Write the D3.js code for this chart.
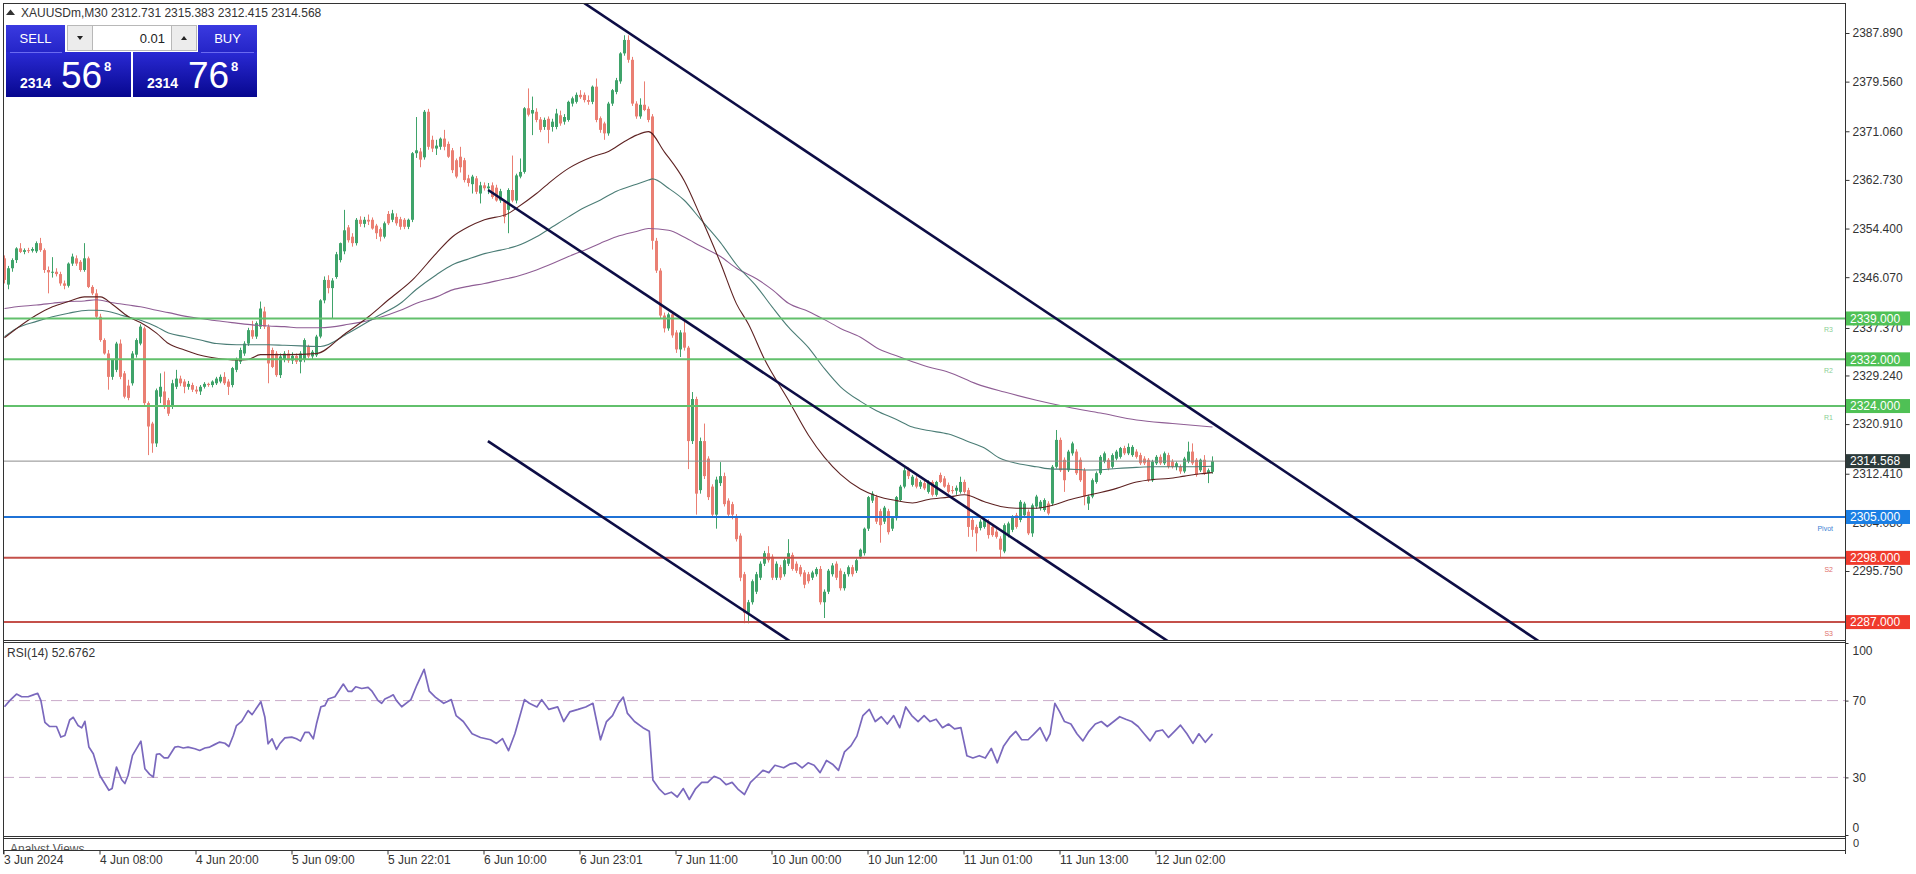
<!DOCTYPE html>
<html><head><meta charset="utf-8">
<script src="https://cdn.jsdelivr.net/npm/d3@7"></script>
<style>
html,body{margin:0;padding:0;background:#fff;overflow:hidden;}
svg{display:block;font-family:"Liberation Sans",Arial,sans-serif;}
</style></head><body>
<svg id="c" width="1916" height="874"></svg>
<script>
// ---------------- DATA ----------------
const symbolLabel = "XAUUSDm,M30";
const headerOHLC = ["2312.731", "2315.383", "2312.415", "2314.568"];
const rsiLabel = "RSI(14) 52.6762";
const analystLabel = "Analyst Views";
const lotSize = "0.01";
const sellQuote = ["2314", "56", "8"];
const buyQuote = ["2314", "76", "8"];

const timeTickBars = [0, 24, 48, 72, 96, 120, 144, 168, 192, 216, 240, 264, 288];
const timeTickLabels = ["3 Jun 2024", "4 Jun 08:00", "4 Jun 20:00", "5 Jun 09:00", "5 Jun 22:01", "6 Jun 10:00",
  "6 Jun 23:01", "7 Jun 11:00", "10 Jun 00:00", "10 Jun 12:00", "11 Jun 01:00", "11 Jun 13:00", "12 Jun 02:00"];
const priceTicks = [2387.890, 2379.560, 2371.060, 2362.730, 2354.400, 2346.070, 2337.370, 2329.240, 2320.910, 2312.410, 2304.080, 2295.750];
const rsiTicks = [100, 70, 30, 0];
const rsiLevels = [70, 30];

const levelNames = ["R3", "R2", "R1", "Pivot", "S2", "S3"];
const levelValues = [2339.000, 2332.000, 2324.000, 2305.000, 2298.000, 2287.000];
const levelKinds = ["res", "res", "res", "pivot", "sup", "sup"];
const lastPrice = 2314.568;

// trend channel anchors: [bar, price]
const trendUpper = [[151.3, 2390.1], [229.25, 2354.4]];
const trendMiddle = [[120.9, 2361.0], [270.9, 2292.8]];
const trendLower = [[120.85, 2318.0], [195.1, 2284.3]];

// candles [open, high, low, close]
const ohlcA = [
[2349.3,2349.8,2345.0,2345.6],[2344.8,2348.0,2344.0,2347.6],[2347.6,2349.3,2347.0,2349.0],[2349.0,2351.2,2348.5,2351.0],
[2351.0,2351.9,2350.2,2350.4],[2350.4,2351.0,2350.0,2350.7],[2350.7,2351.1,2350.2,2350.6],[2350.6,2351.2,2350.3,2350.9],
[2350.5,2352.2,2350.2,2351.9],[2351.9,2352.8,2350.4,2350.7],[2350.7,2351.0,2346.8,2347.3],[2347.3,2347.9,2343.3,2346.9],
[2346.9,2349.5,2346.0,2347.0],[2347.0,2347.6,2346.2,2346.6],[2346.6,2347.0,2344.6,2345.0],[2345.0,2345.5,2344.0,2344.6],
[2344.6,2348.6,2344.3,2348.4],[2348.4,2350.1,2348.0,2349.6],[2349.3,2349.8,2348.0,2348.4],[2348.7,2349.0,2347.0,2347.3],
[2347.3,2351.9,2347.0,2349.3],[2349.3,2349.6,2344.2,2344.4],[2344.4,2344.7,2343.0,2343.3],[2343.3,2344.0,2339.0,2339.3],
[2339.3,2339.8,2335.0,2335.3],[2335.3,2335.6,2332.8,2333.0],[2333.0,2333.6,2326.8,2329.0],[2329.0,2332.0,2328.5,2331.9],
[2330.2,2335.0,2329.8,2334.7],[2334.7,2335.4,2328.6,2329.0],[2329.6,2330.0,2325.3,2325.6],[2327.5,2328.5,2325.0,2325.4],
[2327.9,2333.4,2327.5,2333.0],[2332.8,2335.6,2332.3,2335.3],[2334.7,2338.0,2334.4,2337.6],[2337.3,2337.6,2324.0,2324.5],
[2324.5,2324.8,2315.6,2320.5],[2321.0,2321.3,2316.0,2317.6],[2317.6,2327.0,2317.0,2326.7],[2325.6,2329.6,2324.5,2327.3],
[2326.5,2329.9,2323.5,2323.9],[2325.0,2325.4,2322.3,2322.7],[2323.9,2328.5,2323.5,2327.9],[2327.3,2330.2,2326.9,2328.7],
[2328.7,2329.2,2327.4,2327.9],[2328.2,2328.6,2326.2,2327.3],[2327.3,2328.3,2326.8,2327.8],[2327.6,2328.0,2326.4,2326.8],
[2326.8,2327.4,2326.1,2326.5],[2326.5,2327.6,2325.9,2327.3],[2327.3,2328.1,2327.0,2327.8],[2327.8,2328.0,2327.3,2327.6],
[2327.6,2328.4,2327.2,2328.2],[2327.9,2329.0,2327.6,2328.7],[2328.2,2329.4,2327.9,2329.0],[2329.0,2329.8,2327.6,2327.9],
[2328.2,2328.6,2325.9,2327.3],[2327.6,2330.7,2327.2,2330.5],[2330.2,2332.3,2329.8,2331.9],[2331.6,2334.0,2331.2,2333.6],
[2333.0,2335.1,2332.6,2334.7],[2334.7,2337.4,2334.3,2337.0],[2337.0,2338.6,2335.5,2335.9],[2335.9,2338.5,2335.5,2338.2],
[2337.6,2341.9,2337.2,2340.7],[2340.2,2341.0,2337.2,2337.6],[2337.6,2338.0,2327.9,2331.3],[2333.6,2334.0,2330.5,2330.7],
[2333.0,2333.4,2329.0,2329.3],[2329.3,2333.0,2328.8,2332.5],[2331.9,2333.4,2331.5,2333.0],[2333.0,2333.6,2331.4,2331.8],
[2331.8,2333.2,2331.2,2332.6],[2332.6,2333.0,2331.2,2331.6],[2331.6,2333.4,2329.6,2333.0],[2331.9,2335.6,2331.5,2335.3],
[2334.2,2334.5,2332.2,2332.5],[2332.5,2333.6,2332.0,2333.3],[2332.7,2336.2,2332.4,2335.9],[2335.9,2342.3,2335.6,2342.1]
];
const ohlcB = [
[2342.1,2346.2,2341.6,2345.6],[2345.6,2346.4,2343.3,2344.2],[2344.2,2345.9,2339.0,2345.5],[2346.1,2350.4,2345.8,2350.0],
[2349.0,2352.0,2348.6,2351.9],[2350.5,2357.6,2350.0,2354.1],[2354.6,2355.0,2352.0,2352.4],[2353.0,2353.6,2351.3,2351.9],
[2351.9,2356.2,2351.5,2355.9],[2355.9,2356.5,2354.7,2355.2],[2355.2,2356.4,2354.6,2355.9],[2355.9,2356.8,2355.0,2355.6],
[2355.9,2356.3,2354.2,2354.4],[2354.9,2355.2,2352.6,2353.6],[2354.3,2354.6,2352.2,2353.0],[2353.0,2355.6,2352.7,2355.3],
[2356.9,2357.4,2355.0,2355.3],[2355.9,2357.6,2355.5,2357.0],[2356.4,2357.0,2354.9,2355.3],[2356.0,2356.4,2354.2,2354.7],
[2355.9,2356.2,2354.3,2354.7],[2354.7,2356.1,2354.3,2355.9],[2355.9,2367.5,2355.5,2367.3],[2367.3,2373.5,2366.5,2367.8],
[2367.6,2368.2,2364.9,2366.2],[2366.6,2374.7,2366.2,2374.4],[2374.4,2374.9,2367.9,2368.4],[2369.6,2370.3,2367.5,2368.1],
[2368.1,2369.6,2367.0,2368.6],[2368.4,2370.0,2367.9,2369.8],[2369.8,2371.3,2367.8,2368.4],[2368.9,2369.3,2366.5,2366.7],
[2367.8,2368.2,2363.9,2364.4],[2366.1,2366.4,2363.0,2363.3],[2366.7,2368.4,2364.0,2364.9],[2366.1,2366.5,2362.3,2362.7],
[2363.0,2363.6,2361.6,2362.2],[2362.0,2363.6,2360.4,2363.3],[2363.0,2363.4,2360.3,2360.7],[2360.4,2362.4,2358.7,2361.8],
[2361.8,2362.3,2360.9,2361.3],[2361.3,2362.2,2360.3,2361.6],[2361.8,2362.3,2359.5,2359.8],[2361.4,2361.9,2359.0,2359.2],
[2359.2,2361.2,2358.8,2360.8],[2359.0,2359.3,2355.3,2356.4],[2357.6,2361.3,2353.6,2361.0],[2361.0,2366.9,2358.9,2359.2],
[2359.2,2363.8,2358.7,2363.5],[2363.3,2366.4,2363.0,2364.1],[2364.1,2375.2,2363.8,2375.0],[2375.0,2378.4,2373.6,2373.9],
[2374.1,2377.0,2370.4,2374.7],[2374.4,2375.0,2372.6,2373.0],[2373.1,2373.5,2370.9,2371.3],[2371.8,2373.4,2371.3,2373.0],
[2373.2,2373.6,2369.0,2371.3],[2371.8,2373.2,2371.0,2372.7],[2371.8,2374.9,2371.4,2374.1],[2373.8,2374.6,2372.0,2372.4],
[2372.7,2374.0,2372.2,2373.5],[2373.0,2376.3,2372.7,2376.1],[2375.8,2377.0,2375.3,2376.7],[2376.1,2377.7,2375.8,2377.3],
[2377.3,2378.1,2376.6,2376.9],[2377.3,2377.7,2376.0,2376.4],[2376.4,2377.2,2375.6,2376.1],[2376.1,2378.9,2375.7,2378.7],
[2378.7,2380.1,2372.6,2373.0],[2373.3,2373.6,2370.8,2371.3],[2372.4,2372.7,2369.6,2370.7],[2370.7,2376.1,2370.3,2375.8],
[2375.8,2378.3,2375.4,2378.1],[2377.8,2380.2,2377.4,2379.8],[2379.6,2384.6,2379.2,2384.4],[2384.4,2387.5,2384.0,2386.7],
[2386.7,2387.5,2382.8,2383.3],[2383.3,2383.8,2375.4,2375.8],[2375.8,2376.2,2373.2,2373.6],[2373.6,2376.7,2373.2,2375.6],
[2375.6,2379.6,2374.5,2374.7],[2374.9,2375.3,2372.6,2373.0]
];
const ohlcC = [
[2373.6,2374.0,2350.8,2352.3],[2352.3,2352.8,2346.8,2347.2],[2347.2,2347.6,2339.0,2339.5],[2339.5,2340.0,2336.6,2337.3],
[2337.3,2340.0,2336.9,2339.7],[2339.7,2340.1,2335.7,2336.1],[2336.6,2337.0,2333.1,2333.7],[2333.7,2337.0,2332.4,2336.6],
[2336.6,2338.5,2333.5,2334.0],[2334.0,2334.3,2313.2,2318.0],[2318.0,2326.4,2317.5,2325.2],[2325.2,2325.6,2305.4,2309.0],
[2309.6,2318.6,2309.0,2318.0],[2318.0,2321.0,2311.5,2312.0],[2315.0,2315.4,2307.9,2308.4],[2310.2,2310.6,2305.0,2305.4],
[2305.4,2311.9,2303.0,2311.4],[2310.8,2314.4,2310.3,2312.0],[2312.0,2312.6,2306.8,2307.2],[2307.8,2308.2,2305.0,2305.4],
[2307.2,2307.6,2304.6,2305.4],[2305.1,2305.5,2300.8,2301.2],[2301.8,2302.2,2294.0,2294.6],[2295.2,2295.6,2286.8,2288.6],
[2288.6,2290.8,2286.8,2290.4],[2290.4,2294.3,2290.0,2294.0],[2292.2,2295.6,2291.8,2295.2],[2294.6,2297.4,2294.2,2297.0],
[2297.0,2299.2,2296.6,2298.8],[2298.8,2300.0,2297.2,2297.6],[2298.2,2298.6,2294.2,2294.6],[2294.6,2297.4,2294.2,2297.0],
[2296.4,2296.8,2294.2,2294.6],[2295.2,2298.0,2294.8,2297.6],[2297.0,2301.2,2296.6,2298.8],[2298.5,2298.9,2295.8,2296.1],
[2297.0,2297.4,2295.4,2295.8],[2296.4,2296.8,2294.8,2295.2],[2295.5,2295.9,2292.8,2293.4],[2295.2,2295.6,2293.6,2294.0],
[2294.6,2295.8,2294.2,2295.5],[2295.2,2296.4,2294.8,2296.1],[2296.1,2296.6,2290.0,2290.4],[2290.4,2292.6,2287.7,2292.2],
[2292.2,2296.1,2291.8,2295.8],[2295.2,2297.1,2294.8,2296.7],[2297.0,2297.4,2294.2,2294.6],[2295.8,2296.2,2292.4,2292.8],
[2292.8,2295.6,2292.4,2295.2],[2295.2,2296.7,2294.8,2296.4],[2296.4,2296.8,2294.8,2295.2],[2295.8,2297.9,2295.4,2297.6],
[2298.2,2299.6,2297.8,2299.4],[2298.8,2303.2,2298.4,2303.0],[2303.0,2308.6,2302.6,2308.4],[2307.8,2309.4,2307.4,2309.0],
[2308.4,2308.8,2303.8,2304.2],[2306.0,2306.4,2300.6,2303.6],[2304.2,2306.9,2303.8,2306.6],[2306.0,2306.4,2302.0,2302.4],
[2303.0,2305.0,2302.6,2304.8],[2304.8,2308.6,2304.4,2308.4]
];
const ohlcD = [
[2307.9,2310.5,2307.6,2310.2],[2310.2,2313.4,2309.9,2313.0],[2313.0,2313.5,2311.5,2312.0],[2310.5,2312.2,2310.2,2311.9],
[2311.6,2312.0,2309.9,2310.2],[2310.2,2311.3,2309.8,2311.0],[2310.8,2311.2,2309.6,2309.9],[2309.3,2311.3,2309.0,2311.0],
[2311.0,2311.3,2308.5,2308.8],[2308.8,2311.2,2308.5,2311.0],[2312.2,2312.6,2310.8,2311.0],[2311.6,2312.0,2310.0,2310.2],
[2310.5,2310.9,2309.0,2309.3],[2309.6,2310.3,2309.0,2309.5],[2309.5,2310.4,2308.8,2310.0],[2309.3,2311.9,2309.0,2311.0],
[2311.0,2311.4,2309.0,2309.3],[2309.6,2310.0,2301.6,2303.3],[2304.5,2304.9,2301.6,2302.8],[2303.3,2303.7,2299.1,2302.2],
[2303.1,2304.6,2302.7,2304.2],[2303.3,2304.8,2303.0,2304.5],[2304.2,2304.6,2301.3,2301.9],[2303.3,2303.7,2301.6,2301.9],
[2302.5,2302.9,2301.3,2301.6],[2301.3,2301.7,2297.9,2299.4],[2299.1,2303.9,2298.8,2303.6],[2301.9,2304.2,2301.5,2303.9],
[2302.8,2305.3,2302.4,2305.1],[2305.3,2305.7,2303.0,2303.3],[2304.5,2307.9,2304.1,2307.6],[2305.3,2307.6,2305.0,2307.3],
[2305.9,2306.3,2301.9,2302.2],[2302.2,2307.3,2301.6,2307.0],[2306.8,2308.8,2306.4,2308.5],[2306.5,2307.9,2306.1,2307.6],
[2306.2,2308.2,2305.9,2307.9],[2307.3,2307.7,2305.3,2305.6],[2307.3,2313.9,2306.9,2313.6],[2313.6,2319.9,2313.3,2318.2],
[2318.2,2318.6,2312.7,2313.0],[2314.8,2315.2,2309.3,2311.3],[2313.0,2316.5,2312.7,2316.2],[2315.9,2317.9,2315.5,2317.6],
[2316.2,2316.6,2312.2,2312.5],[2314.8,2315.2,2311.0,2311.3],[2313.0,2313.4,2307.0,2308.5],[2307.3,2308.8,2306.2,2308.5],
[2308.5,2311.6,2308.2,2311.3],[2311.0,2312.8,2310.7,2312.5],[2312.5,2315.6,2312.2,2315.3],[2314.5,2316.2,2314.2,2315.9],
[2314.8,2315.1,2313.0,2313.3],[2313.6,2315.9,2313.3,2315.6],[2315.0,2316.5,2314.7,2316.2],[2315.3,2317.0,2315.0,2316.8],
[2316.8,2317.2,2315.6,2315.9],[2315.9,2317.6,2315.6,2317.0],[2315.6,2317.3,2315.3,2317.0],[2316.2,2316.6,2315.0,2315.3],
[2315.6,2316.0,2313.9,2314.2],[2315.0,2315.4,2313.9,2314.2],[2314.8,2315.1,2311.0,2311.3],[2311.3,2314.8,2311.0,2314.5],
[2314.2,2315.6,2313.9,2315.3],[2315.3,2315.7,2313.9,2314.2],[2314.2,2316.2,2313.9,2315.9],[2315.6,2316.0,2313.3,2313.6],
[2314.5,2314.9,2313.3,2313.6],[2313.6,2314.5,2313.0,2314.2],[2313.6,2314.0,2312.4,2312.8],[2312.8,2315.3,2312.5,2315.0],
[2314.5,2317.9,2314.2,2316.2],[2316.2,2317.6,2313.9,2314.2],[2314.8,2315.1,2311.9,2312.2],[2313.0,2315.0,2312.7,2314.8],
[2314.8,2315.6,2312.2,2312.5],[2312.5,2313.3,2310.8,2313.0],[2312.731,2315.383,2312.415,2314.568]
];

// moving averages [bar, price]
const maFast = [[0,2335.7],[8,2339.6],[12,2341.0],[16,2341.9],[20,2342.7],[24,2342.7],[27,2341.4],[31,2339.3],[34,2338.3],[38,2336.5],[41,2334.7],[45,2333.6],[49,2332.7],[53,2332.2],[58,2331.9],[61,2332.0],[64,2332.8],[71,2332.8],[78,2333.0],[85,2336.3],[91,2339.3],[96,2342.2],[102,2345.6],[108,2350.2],[112,2353.0],[116,2354.7],[120,2355.9],[126,2357.0],[128,2357.9],[133,2360.4],[137,2362.7],[141,2364.7],[147,2366.7],[151,2367.6],[155,2369.3],[158,2370.4],[161,2371.0],[165,2367.5],[170,2362.5],[174,2356.5],[179,2348.5],[183,2341.5],[186,2338.0],[190,2332.0],[196,2325.0],[201,2319.0],[205,2315.2],[209,2312.3],[214,2309.8],[218,2308.6],[223,2307.8],[227,2307.4],[231,2308.0],[236,2308.4],[240,2308.8],[245,2307.6],[249,2306.8],[253,2306.5],[258,2306.5],[262,2307.0],[266,2307.9],[270,2308.6],[274,2309.2],[278,2309.9],[283,2311.0],[287,2311.4],[291,2311.6],[295,2312.0],[299,2312.4],[302,2312.6]];
const maMid = [[0,2335.9],[3,2337.3],[8,2338.5],[12,2339.3],[16,2339.9],[21,2340.4],[23,2340.4],[26,2340.2],[29,2339.6],[34,2338.7],[38,2337.6],[41,2336.5],[45,2335.9],[49,2335.3],[53,2334.7],[58,2334.5],[66,2334.5],[70,2334.4],[74,2334.3],[79,2334.2],[86,2336.5],[93,2339.3],[99,2341.6],[103,2344.0],[108,2346.5],[112,2348.2],[116,2349.2],[120,2350.1],[124,2350.7],[128,2351.4],[133,2353.0],[137,2354.7],[141,2356.4],[145,2358.0],[149,2359.3],[153,2360.8],[158,2362.0],[161,2362.7],[162,2362.9],[166,2361.3],[170,2359.2],[174,2356.0],[179,2352.0],[183,2348.2],[188,2344.5],[192,2340.9],[196,2337.5],[201,2334.0],[205,2330.4],[209,2327.3],[214,2324.8],[218,2323.2],[223,2321.7],[227,2320.4],[231,2319.8],[236,2319.2],[241,2317.9],[245,2316.8],[249,2315.0],[253,2314.2],[258,2313.6],[262,2313.2],[266,2313.2],[270,2313.05],[274,2313.1],[278,2313.3],[283,2313.5],[287,2313.6],[295,2313.6],[302,2313.7]];
const maSlow = [[0,2340.7],[3,2341.0],[8,2341.3],[12,2341.6],[16,2341.9],[20,2342.0],[23,2342.2],[27,2341.7],[31,2341.3],[34,2341.0],[38,2340.4],[41,2340.0],[45,2339.4],[49,2339.0],[53,2338.6],[58,2338.2],[62,2337.9],[66,2337.7],[70,2337.6],[74,2337.4],[79,2337.4],[86,2338.0],[93,2339.0],[99,2340.4],[103,2341.6],[108,2342.7],[112,2343.9],[116,2344.5],[120,2345.0],[124,2345.6],[128,2346.2],[133,2347.3],[137,2348.4],[141,2349.6],[145,2350.7],[149,2351.9],[153,2353.0],[158,2353.9],[161,2354.4],[166,2354.1],[170,2352.9],[174,2351.4],[179,2349.6],[183,2347.6],[188,2345.8],[192,2343.9],[196,2341.6],[201,2340.2],[205,2338.8],[209,2337.3],[214,2335.8],[218,2334.0],[223,2332.6],[227,2331.6],[231,2330.7],[236,2329.8],[243,2327.8],[250,2326.4],[258,2325.0],[266,2323.8],[274,2322.8],[283,2321.6],[292,2321.0],[302,2320.4]];

// RSI(14) [bar, value]
const rsiSeries = [[0,66.8],[1.3,70.0],[3,73.4],[4.3,72.0],[5.9,72.0],[7.2,73.0],[8.3,73.8],[9.1,70.0],[10.1,58.7],[11.3,56.5],[13,56.5],[14.1,51.0],[15.1,51.8],[16.3,59.9],[17.2,61.3],[18.4,57.0],[19.3,55.8],[20.1,59.2],[21.1,45.8],[22.2,42.3],[23.8,31.1],[26.1,23.3],[26.9,24.2],[28,35.4],[29.3,28.8],[30.1,26.8],[30.9,31.1],[32,41.5],[34.1,48.9],[35.1,34.5],[36.3,31.6],[37.2,30.2],[38,42.0],[38.8,42.3],[39.9,40.2],[40.9,40.2],[42.6,45.8],[43.4,46.1],[44.7,45.3],[45.9,45.8],[47.6,44.9],[48.8,44.0],[50.1,45.3],[51.3,45.8],[52.6,47.2],[53.8,48.4],[55.1,47.8],[56.1,46.1],[57.2,51.8],[58,57.0],[59.3,59.2],[60.9,64.8],[61.9,62.7],[64.1,69.4],[65.1,61.3],[65.9,47.5],[66.9,50.1],[68,44.6],[68.8,47.5],[70.1,50.6],[71.8,51.0],[73,50.1],[74,48.9],[75.1,53.5],[76.1,53.5],[77.2,50.1],[78,57.9],[79.1,66.8],[80.1,67.4],[80.9,70.8],[82.6,72.0],[84.7,78.6],[85.9,74.8],[86.8,74.8],[87.8,77.2],[89.3,76.3],[90.9,76.9],[91.8,75.1],[93.4,70.0],[94.3,68.6],[95.1,70.8],[96.3,72.0],[97.2,73.0],[98,70.0],[99.3,66.8],
[101.6,70.5],[103.1,78.1],[104.9,86.3],[106.2,74.9],[107.7,71.8],[109.8,68.6],[111.7,70.5],[112.9,62.2],[114.7,59.1],[116.9,52.7],[119,50.8],[121.5,49.6],[123,47.7],[124.5,50.2],[126,43.9],[127.6,52.7],[130,70.5],[131.2,68.6],[133.1,66.7],[134.3,70.5],[136.1,65.4],[138.3,66.7],[139.8,59.1],[141.3,64.1],[143.4,65.4],[145.3,66.7],[147.1,68.6],[149,49.6],[150.5,59.1],[152,62.2],[153.5,68.6],[154.7,71.8],[155.7,63.5],[157.5,59.1],[159.6,55.9],[161.2,54.0],[162.1,28.7],[163.6,24.2],[165.1,21.1],[166.7,22.3],[168.2,19.8],[169.7,24.2],[171.2,18.5],[172.8,24.2],[174.3,27.4],[175.8,27.4],[177.4,30.6],[178.9,29.3],[180.4,26.2],[181.9,27.4],[183.5,23.6],[185,21.1],[186.5,27.4],[188.1,30.6],[189.6,33.7],[191.1,32.5],[192.6,36.3],[194.8,35.0],[196.3,36.9],[197.8,37.6],[199.4,35.0],[200.9,37.6],[202.4,36.3],[203.9,32.5],[205.5,38.8],[207,36.9],[208.5,33.7],[210,43.3],[211.6,46.4],[213.1,51.5],[214.6,62.2],[216.2,65.4],[217.7,59.1],[219.2,61.6],[220.7,57.8],[222.3,62.2],[223.8,55.9],[225.3,66.7],[226.8,62.2],[228.4,59.1],[229.9,62.2],[231.4,59.1],[232.9,60.3],[234.5,55.9],[236,57.8],[237.5,55.3],[239.1,55.9],[240.6,41.3],[242.1,40.1],[243.7,41.3],[245.2,40.1],[246.7,45.1],[248.2,37.6],[249.8,46.4],[251.3,50.8],[252.8,54.0],[254.3,49.6],[255.9,49.6],[257.4,52.7],[258.9,55.9],[260.5,49.0],[261.4,52.7],[262.6,68.6],[263.8,64.1],[265,59.1],[266.6,57.8],[268.1,52.7],[269.6,49.0],[271.1,54.0],[272.7,57.8],[274.2,59.1],[275.7,56.5],[277.3,59.1],[278.8,61.6],[280.3,60.3],[281.8,59.1],[283.4,56.5],[284.9,52.7],[286.4,49.0],[287.9,54.0],[289.5,54.7],[291,50.8],[292.5,54.0],[294,57.2],[295.6,52.7],[297.1,47.7],[298.6,52.7],[300.2,48.3],[302,52.68]];

// ---------------- DRAW ----------------
const ohlc = ohlcA.concat(ohlcB, ohlcC, ohlcD);
const svg = d3.select("#c");
const L = 3, R = 1845, mainT = 3, mainB = 640, rsiT = 642, rsiB = 836, avT = 838, avB = 850;
const axisCol = "#333";

const x = d3.scaleLinear().domain([0, ohlc.length - 1]).range([4.5, 4.5 + 4 * (ohlc.length - 1)]);
const y = d3.scaleLinear().domain([2295.75, 2387.89]).range([571, 33]);
const yr = d3.scaleLinear().domain([0, 100]).range([835, 643]);

const defs = svg.append("defs");
defs.append("clipPath").attr("id", "clipMain").append("rect").attr("x", L).attr("y", mainT).attr("width", R - L).attr("height", mainB - mainT);
defs.append("clipPath").attr("id", "clipRsi").append("rect").attr("x", L).attr("y", rsiT).attr("width", R - L).attr("height", rsiB - rsiT);
defs.append("clipPath").attr("id", "clipAv").append("rect").attr("x", L).attr("y", avT).attr("width", R - L).attr("height", avB - avT);
function grad(id, c1, c2) {
  const g = defs.append("linearGradient").attr("id", id).attr("x1", 0).attr("y1", 0).attr("x2", 0).attr("y2", 1);
  g.append("stop").attr("offset", "0%").attr("stop-color", c1);
  g.append("stop").attr("offset", "100%").attr("stop-color", c2);
}
grad("gBtn", "#3a3ae0", "#2525c8");
grad("gPrice", "#2a2ad4", "#07078f");

svg.append("rect").attr("width", 1916).attr("height", 874).attr("fill", "#fff");

// ---- main panel
const main = svg.append("g").attr("clip-path", "url(#clipMain)");

// candles
const bull = "#3fa36a", bear = "#ea7f73";
main.append("g").selectAll("line").data(ohlc).join("line")
  .attr("x1", (d, i) => x(i)).attr("x2", (d, i) => x(i))
  .attr("y1", d => y(d[1])).attr("y2", d => y(d[2]))
  .attr("stroke", d => d[3] >= d[0] ? bull : bear).attr("stroke-width", 1);
main.append("g").selectAll("rect").data(ohlc).join("rect")
  .attr("x", (d, i) => x(i) - 1.5).attr("width", 3)
  .attr("y", d => y(Math.max(d[0], d[3])))
  .attr("height", d => Math.max(1, Math.abs(y(d[0]) - y(d[3]))))
  .attr("fill", d => d[3] >= d[0] ? bull : bear);

// moving averages
const maLine = d3.line().x(d => x(d[0])).y(d => y(d[1])).curve(d3.curveMonotoneX);
[[maSlow, "#8f5e95"], [maMid, "#4b7d76"], [maFast, "#5e2222"]].forEach(([data, col]) => {
  main.append("path").attr("d", maLine(data)).attr("fill", "none").attr("stroke", col).attr("stroke-width", 1.1);
});

// current price line
main.append("line").attr("x1", L).attr("x2", R).attr("y1", y(lastPrice)).attr("y2", y(lastPrice))
  .attr("stroke", "#8c8c8c").attr("stroke-width", 1);

// level lines
const lineCol = { res: "#62c06c", pivot: "#1f72d6", sup: "#c4504a" };
const tagCol = { res: "#4fc155", pivot: "#1b7fe4", sup: "#f03b2d" };
const nameCol = { res: "#8ccf95", pivot: "#3b7fd4", sup: "#e0706a" };
levelValues.forEach((v, i) => {
  main.append("line").attr("x1", L).attr("x2", R).attr("y1", y(v)).attr("y2", y(v))
    .attr("stroke", lineCol[levelKinds[i]]).attr("stroke-width", 2);
  main.append("text").attr("x", 1833).attr("y", y(v) + 14).attr("text-anchor", "end")
    .attr("font-size", 7).attr("fill", nameCol[levelKinds[i]]).text(levelNames[i]);
});

// trend channel
function trendPoint(a, b, bar) { return [bar, a[1] + (b[1] - a[1]) * (bar - a[0]) / (b[0] - a[0])]; }
function drawTrend(anchors, fromBar) {
  const p0 = trendPoint(anchors[0], anchors[1], fromBar);
  const p1 = trendPoint(anchors[0], anchors[1], 520);
  main.append("line").attr("x1", x(p0[0])).attr("y1", y(p0[1])).attr("x2", x(p1[0])).attr("y2", y(p1[1]))
    .attr("stroke", "#0d0d45").attr("stroke-width", 2.6).attr("stroke-linecap", "butt");
}
drawTrend(trendUpper, 60);
drawTrend(trendMiddle, trendMiddle[0][0]);
drawTrend(trendLower, trendLower[0][0]);

// ---- RSI panel
const rsiG = svg.append("g").attr("clip-path", "url(#clipRsi)");
rsiLevels.forEach(v => {
  rsiG.append("line").attr("x1", L).attr("x2", R).attr("y1", yr(v)).attr("y2", yr(v))
    .attr("stroke", "#c9aac9").attr("stroke-width", 1).attr("stroke-dasharray", "11,5");
});
rsiG.append("path").attr("d", d3.line().x(d => x(d[0])).y(d => yr(d[1]))(rsiSeries))
  .attr("fill", "none").attr("stroke", "#7a68bd").attr("stroke-width", 1.7).attr("stroke-linejoin", "round");
svg.append("text").attr("x", 7).attr("y", 657).attr("font-size", 12).attr("fill", axisCol).text(rsiLabel);

// ---- Analyst views panel
svg.append("g").attr("clip-path", "url(#clipAv)").append("text").attr("x", 10).attr("y", 853)
  .attr("font-size", 12).attr("fill", "#555").text(analystLabel);

// ---- frames
const frame = svg.append("g").attr("stroke", axisCol).attr("stroke-width", 1).attr("fill", "none");
[mainT + 0.5, mainB + 0.5, rsiT + 0.5, rsiB + 0.5, avT + 0.5, avB + 0.5].forEach(yy => {
  frame.append("line").attr("x1", L).attr("x2", R).attr("y1", yy).attr("y2", yy);
});
frame.append("line").attr("x1", L + 0.5).attr("x2", L + 0.5).attr("y1", mainT).attr("y2", avB + 4);
frame.append("line").attr("x1", R + 0.5).attr("x2", R + 0.5).attr("y1", mainT).attr("y2", avB + 4);

// ---- price axis
const pa = svg.append("g").attr("transform", `translate(${R + 0.5},0)`)
  .call(d3.axisRight(y).tickValues(priceTicks).tickFormat(d3.format(".3f")).tickSize(4).tickPadding(3));
pa.select(".domain").remove();
pa.selectAll("line").attr("stroke", axisCol);
pa.selectAll("text").attr("font-size", 12).attr("fill", axisCol).attr("font-family", "Liberation Sans, Arial, sans-serif");

// level tags
levelValues.forEach((v, i) => {
  svg.append("rect").attr("x", R + 1).attr("y", y(v) - 7).attr("width", 64).attr("height", 14).attr("fill", tagCol[levelKinds[i]]);
  svg.append("text").attr("x", R + 5).attr("y", y(v)).attr("dy", "0.36em").attr("font-size", 12).attr("fill", "#fff").text(d3.format(".3f")(v));
});
svg.append("rect").attr("x", R + 1).attr("y", y(lastPrice) - 7).attr("width", 64).attr("height", 14).attr("fill", "#2d3b3b");
svg.append("text").attr("x", R + 5).attr("y", y(lastPrice)).attr("dy", "0.36em").attr("font-size", 12).attr("fill", "#fff").text(d3.format(".3f")(lastPrice));

// ---- RSI axis
const ra = svg.append("g").attr("transform", `translate(${R + 0.5},0)`)
  .call(d3.axisRight(yr).tickValues(rsiTicks).tickFormat(d3.format("d")).tickSize(3).tickPadding(4));
ra.select(".domain").remove();
ra.selectAll("line").attr("stroke", axisCol);
ra.selectAll("text").attr("font-size", 12).attr("fill", axisCol).attr("font-family", "Liberation Sans, Arial, sans-serif")
  .attr("dy", d => d === 100 ? "0.95em" : (d === 0 ? "-0.3em" : "0.36em"));
// analyst panel axis value
svg.append("text").attr("x", R + 8).attr("y", avT + 9).attr("font-size", 11).attr("fill", axisCol).text("0");

// ---- time axis
const ta = svg.append("g").attr("transform", `translate(-1,${avB + 0.5})`)
  .call(d3.axisBottom(x).tickValues(timeTickBars).tickFormat((d, i) => timeTickLabels[i]).tickSize(4).tickPadding(1));
ta.select(".domain").remove();
ta.selectAll("line").attr("stroke", axisCol);
ta.selectAll("text").attr("text-anchor", "start").attr("x", 0).attr("font-size", 12).attr("fill", axisCol)
  .attr("font-family", "Liberation Sans, Arial, sans-serif");

// ---- header
svg.append("path").attr("d", "M6,15 L10.5,9.5 L15,15 Z").attr("fill", "#333");
svg.append("text").attr("x", 21).attr("y", 17).attr("font-size", 12).attr("fill", "#333")
  .text(symbolLabel + "  " + headerOHLC.join(" "));

// ---- one click trading panel
const tp = svg.append("g");
tp.append("rect").attr("x", 6).attr("y", 25).attr("width", 59).attr("height", 27).attr("fill", "url(#gBtn)");
tp.append("rect").attr("x", 198).attr("y", 25).attr("width", 59).attr("height", 27).attr("fill", "url(#gBtn)");
tp.append("text").attr("x", 35.5).attr("y", 43).attr("text-anchor", "middle").attr("font-size", 13).attr("fill", "#fff").text("SELL");
tp.append("text").attr("x", 227.5).attr("y", 43).attr("text-anchor", "middle").attr("font-size", 13).attr("fill", "#fff").text("BUY");
tp.append("rect").attr("x", 67.5).attr("y", 25.5).attr("width", 129).attr("height", 25).attr("fill", "#fff").attr("stroke", "#b8b8b8");
tp.append("rect").attr("x", 67.5).attr("y", 25.5).attr("width", 25).attr("height", 25).attr("fill", "#ececec").attr("stroke", "#b8b8b8");
tp.append("rect").attr("x", 171.5).attr("y", 25.5).attr("width", 25).attr("height", 25).attr("fill", "#ececec").attr("stroke", "#b8b8b8");
tp.append("path").attr("d", "M77,36 L83,36 L80,40 Z").attr("fill", "#222");
tp.append("path").attr("d", "M181,40 L187,40 L184,36 Z").attr("fill", "#222");
tp.append("text").attr("x", 165).attr("y", 43).attr("text-anchor", "end").attr("font-size", 13).attr("fill", "#222").text(lotSize);
tp.append("rect").attr("x", 6).attr("y", 52).attr("width", 125).attr("height", 45).attr("fill", "url(#gPrice)");
tp.append("rect").attr("x", 133).attr("y", 52).attr("width", 124).attr("height", 45).attr("fill", "url(#gPrice)");
tp.append("line").attr("x1", 10).attr("x2", 62).attr("y1", 52.5).attr("y2", 52.5).attr("stroke", "#6a6af0");
tp.append("line").attr("x1", 201).attr("x2", 254).attr("y1", 52.5).attr("y2", 52.5).attr("stroke", "#6a6af0");
function quote(q, x0) {
  tp.append("text").attr("x", x0).attr("y", 88).attr("font-size", 14).attr("font-weight", "bold").attr("fill", "#fff").text(q[0]);
  tp.append("text").attr("x", x0 + 41).attr("y", 88).attr("font-size", 37).attr("fill", "#fff").text(q[1]);
  tp.append("text").attr("x", x0 + 84).attr("y", 71).attr("font-size", 13).attr("font-weight", "bold").attr("fill", "#fff").text(q[2]);
}
quote(sellQuote, 20);
quote(buyQuote, 147);
</script>
</body></html>
